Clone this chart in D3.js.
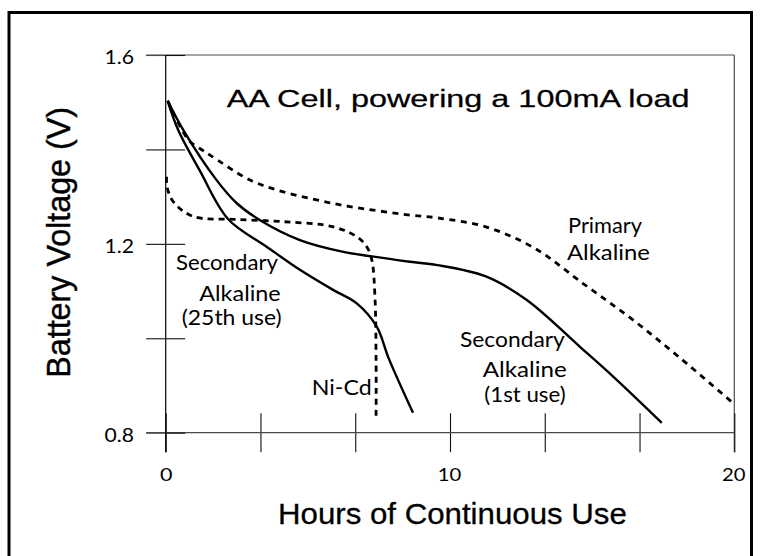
<!DOCTYPE html>
<html>
<head>
<meta charset="utf-8">
<script src="https://cdn.jsdelivr.net/npm/d3@7/dist/d3.min.js"></script>
<style>
  html, body { margin: 0; padding: 0; background: #fff; }
  svg { display: block; }
</style>
</head>
<body>
<svg id="chart" width="762" height="556"></svg>
<script>
// ---------------- data ----------------
const title = "AA Cell, powering a 100mA load";
const xLabel = "Hours of Continuous Use";
const yLabel = "Battery Voltage (V)";

const xTickValues = [0, 10/3, 20/3, 10, 40/3, 50/3, 20];
const xTickLabels = ["0", "10", "20"];
const xTickLabelValues = [0, 10, 20];
const yTickValues = [0.8, 1.0, 1.2, 1.4, 1.6];
const yTickLabels = ["0.8", "1.2", "1.6"];
const yTickLabelValues = [0.8, 1.2, 1.6];

// Primary Alkaline (dashed)
const primaryHours = [0.07, 0.8, 1.2, 1.56, 2.97, 4.14, 5.31, 6.48, 8.59, 9.55, 11.26, 12.97, 14.68, 16.39, 18.1, 19.97];
const primaryVolts = [1.503, 1.42, 1.402, 1.388, 1.335, 1.31, 1.293, 1.279, 1.261, 1.255, 1.236, 1.191, 1.116, 1.041, 0.958, 0.862];

// Secondary Alkaline, 1st use (solid)
const sec1Hours = [0.07, 0.62, 1.79, 2.5, 3.32, 4.72, 6.25, 7.19, 8.59, 9.55, 11.26, 12.7, 14.57, 15.74, 17.45];
const sec1Volts = [1.503, 1.441, 1.335, 1.286, 1.250, 1.208, 1.183, 1.174, 1.162, 1.155, 1.131, 1.081, 0.982, 0.919, 0.821];

// Secondary Alkaline, 25th use (solid)
const sec25Hours = [0.07, 0.44, 1.2, 2.2, 3.55, 4.72, 5.9, 6.72, 7.42, 7.84, 8.7];
const sec25Volts = [1.503, 1.441, 1.355, 1.252, 1.194, 1.145, 1.102, 1.074, 1.025, 0.958, 0.842];

// Ni-Cd (dashed)
const nicdHours = [0.03, 0.05, 0.27, 0.97, 2.38, 4.14, 5.9, 6.72, 7.07, 7.25, 7.36, 7.4, 7.4];
const nicdVolts = [1.342, 1.32, 1.289, 1.258, 1.252, 1.247, 1.236, 1.215, 1.194, 1.166, 1.088, 0.95, 0.834];

// annotation labels (lines of text)
const labelPrimary = ["Primary", "Alkaline"];
const labelSec1 = ["Secondary", "Alkaline", "(1st use)"];
const labelSec25 = ["Secondary", "Alkaline", "(25th use)"];
const labelNicd = ["Ni-Cd"];

// ---------------- drawing ----------------
const svg = d3.select("#chart");
const W = 762, H = 556;

// place text so that its natural width is stretched (glyphs too) to `width`
function fitText(str, px, py, width, opts) {
  const o = Object.assign({ size: 20, family: "sans-serif", anchor: "start", rot: 0, stroke: 0 }, opts);
  const t = svg.append("text")
    .attr("font-family", o.family).attr("font-size", o.size)
    .attr("fill", "#000")
    .text(str);
  if (o.stroke) t.attr("stroke", "#000").attr("stroke-width", o.stroke);
  const w = t.node().getComputedTextLength();
  const sx = width / w;
  let dx = 0;
  if (o.anchor === "middle") dx = -w / 2;
  if (o.anchor === "end") dx = -w;
  t.attr("x", dx).attr("y", 0)
    .attr("transform", `translate(${px},${py}) rotate(${o.rot}) scale(${sx},1)`);
  return t;
}

// outer frame (left, top, right)
svg.append("path")
  .attr("d", `M9,${H + 5} V12.5 H751.5 V${H + 5}`)
  .attr("fill", "none").attr("stroke", "#000").attr("stroke-width", 3);

const x = d3.scaleLinear().domain([0, 20]).range([165.7, 734.3]);
const y = d3.scaleLinear().domain([0.8, 1.6]).range([432.7, 55]);

const frameGray = "#4a4a4a";
const tickLen = 19.5;

// top and right frame lines
svg.append("line")
  .attr("x1", x(0) - tickLen).attr("x2", x(20))
  .attr("y1", y(1.6)).attr("y2", y(1.6))
  .attr("stroke", frameGray).attr("stroke-width", 1.2);
svg.append("line")
  .attr("x1", x(20)).attr("x2", x(20))
  .attr("y1", y(1.6)).attr("y2", y(0.8) + tickLen)
  .attr("stroke", frameGray).attr("stroke-width", 1.2);

// bottom axis: outward ticks + inward ticks
const xAxisOut = d3.axisBottom(x).tickValues(xTickValues).tickSize(tickLen).tickFormat("");
const xAxisIn = d3.axisBottom(x).tickValues(xTickValues).tickSize(-tickLen).tickFormat("");
const gx1 = svg.append("g").attr("transform", `translate(0,${y(0.8)})`).call(xAxisOut);
const gx2 = svg.append("g").attr("transform", `translate(0,${y(0.8)})`).call(xAxisIn);
[gx1, gx2].forEach(g => {
  g.select(".domain").remove();
  g.selectAll(".tick line").attr("stroke", "#111").attr("stroke-width", 1.1);
});
svg.append("line")
  .attr("x1", x(0) - tickLen).attr("x2", x(20))
  .attr("y1", y(0.8)).attr("y2", y(0.8))
  .attr("stroke", frameGray).attr("stroke-width", 1.2);

// left axis: outward + inward ticks
const yAxisOut = d3.axisLeft(y).tickValues(yTickValues).tickSize(tickLen).tickFormat("");
const yAxisIn = d3.axisLeft(y).tickValues(yTickValues).tickSize(-tickLen).tickFormat("");
const gy1 = svg.append("g").attr("transform", `translate(${x(0)},0)`).call(yAxisOut);
const gy2 = svg.append("g").attr("transform", `translate(${x(0)},0)`).call(yAxisIn);
[gy1, gy2].forEach(g => {
  g.select(".domain").remove();
  g.selectAll(".tick line").attr("stroke", "#111").attr("stroke-width", 1.1);
});
gy1.selectAll(".tick line").filter(d => d === 0.8 || d === 1.6).attr("stroke", frameGray);
svg.append("line")
  .attr("x1", x(0)).attr("x2", x(0))
  .attr("y1", y(1.6)).attr("y2", y(0.8) + tickLen)
  .attr("stroke", "#000").attr("stroke-width", 1.2);

// tick labels
const tickFont = "Lato, 'Open Sans', sans-serif";
yTickLabelValues.forEach((v, i) => {
  fitText(yTickLabels[i], 134, y(v) + 9, 29.5, { size: 20, family: tickFont, anchor: "end" });
});
xTickLabelValues.forEach((v, i) => {
  const lbl = xTickLabels[i];
  fitText(lbl, x(v) + (lbl.length === 1 ? 0.5 : -0.5), 481, lbl.length === 1 ? 12.5 : 23.5,
    { size: 18, family: tickFont, anchor: "middle" });
});

// curves
const line = d3.line()
  .x(d => x(d[0])).y(d => y(d[1]))
  .curve(d3.curveCatmullRom.alpha(0.5));
const zipPts = (hs, vs) => hs.map((h, i) => [h, vs[i]]);

const series = [
  { pts: zipPts(primaryHours, primaryVolts), dash: "6,5.5" },
  { pts: zipPts(nicdHours, nicdVolts), dash: "6,5" },
  { pts: zipPts(sec1Hours, sec1Volts), dash: null },
  { pts: zipPts(sec25Hours, sec25Volts), dash: null }
];
series.forEach(s => {
  svg.append("path")
    .attr("d", line(s.pts))
    .attr("fill", "none")
    .attr("stroke", "#000")
    .attr("stroke-width", s.dash ? 2.8 : 2.4)
    .attr("stroke-dasharray", s.dash)
    .attr("stroke-linejoin", "round");
});

const sansFont = "'Liberation Sans', Arial, sans-serif";
fitText(title, 226.7, 106.7, 463, { size: 24, family: sansFont, stroke: 0.25 });
fitText(xLabel, 278, 523.5, 349, { size: 30, family: sansFont, stroke: 0.3 });
fitText(yLabel, 69.5, 242.3, 271, { size: 33, family: sansFont, anchor: "middle", rot: -90, stroke: 0.4 });

// annotations
const annFont = "Lato, 'Open Sans', sans-serif";
function annotate(lines, xs, baselines, lengths) {
  lines.forEach((t, i) => {
    fitText(t, xs[i], baselines[i], lengths[i], { size: 21.5, family: annFont });
  });
}
annotate(labelPrimary, [568, 567], [233.3, 260], [74, 83]);
annotate(labelSec25, [176, 199.3, 181.7], [270, 300.7, 324.5], [102, 81.4, 100]);
annotate(labelSec1, [460, 482.7, 484.3], [346.7, 376.7, 401.7], [105, 84, 81.4]);
annotate(labelNicd, [311.7], [395], [60]);
</script>
</body>
</html>
